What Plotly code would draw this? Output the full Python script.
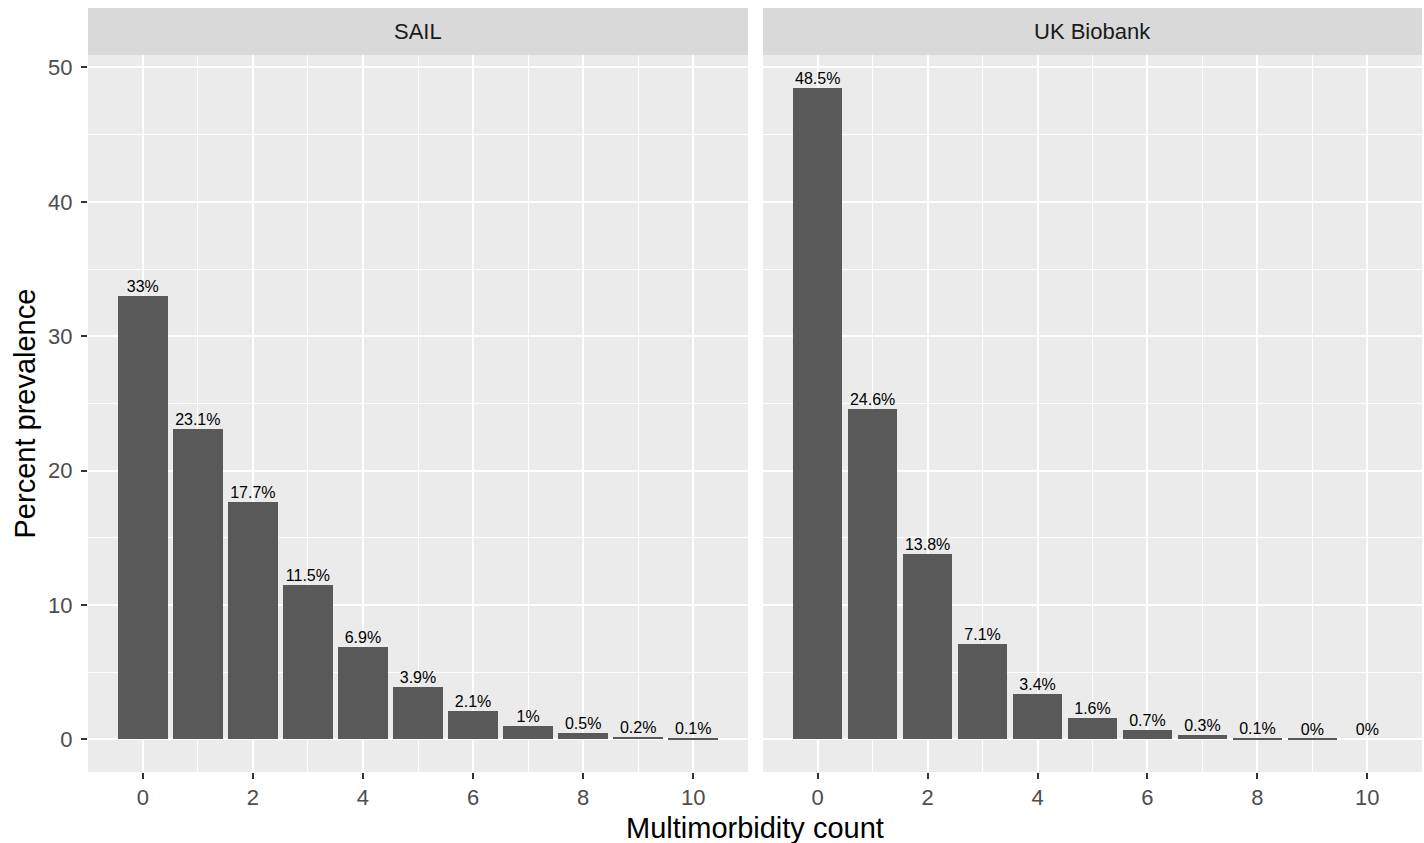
import plotly.graph_objects as go

counts = [0, 1, 2, 3, 4, 5, 6, 7, 8, 9, 10]
sail_values = [33.0, 23.1, 17.7, 11.5, 6.9, 3.9, 2.1, 1.0, 0.5, 0.2, 0.1]
sail_labels = ["33%", "23.1%", "17.7%", "11.5%", "6.9%", "3.9%", "2.1%", "1%", "0.5%", "0.2%", "0.1%"]
ukb_values = [48.5, 24.6, 13.8, 7.1, 3.4, 1.6, 0.7, 0.3, 0.1, 0.04, 0.0]
ukb_labels = ["48.5%", "24.6%", "13.8%", "7.1%", "3.4%", "1.6%", "0.7%", "0.3%", "0.1%", "0%", "0%"]
panels = ["SAIL", "UK Biobank"]
x_ticks = [0, 2, 4, 6, 8, 10]
y_ticks = [0, 10, 20, 30, 40, 50]

FONT = "Arial, Liberation Sans, sans-serif"
BAR = "#595959"

fig = go.Figure()
for i, (vals, labs) in enumerate([(sail_values, sail_labels), (ukb_values, ukb_labels)]):
    xa = "x" if i == 0 else "x2"
    ya = "y" if i == 0 else "y2"
    fig.add_trace(go.Bar(x=counts, y=vals, width=0.9, marker=dict(color=BAR, line=dict(width=0)),
                         xaxis=xa, yaxis=ya, showlegend=False, hoverinfo="skip"))
    fig.add_trace(go.Scatter(x=counts, y=vals, mode="text", text=labs, textposition="top center",
                             textfont=dict(family=FONT, size=16, color="black"),
                             xaxis=xa, yaxis=ya, showlegend=False, cliponaxis=False, hoverinfo="skip"))

L, R, T, B = 88, 2, 55, 71
W, H = 1424, 843
pw = W - L - R
ph = H - T - B
d1 = [0, (748 - L) / pw]
d2 = [(763 - L) / pw, 1]

xcommon = dict(range=[-0.995, 10.995], tickvals=x_ticks, ticks="outside", ticklen=6, tickwidth=2,
               tickcolor="#333333", tickfont=dict(family=FONT, size=22, color="#4D4D4D"),
               showgrid=True, gridcolor="white", gridwidth=2.2, zeroline=False, showline=False,
               minor=dict(dtick=1, tick0=1, showgrid=True, gridcolor="white", gridwidth=1.1, ticks=""),
               fixedrange=True)
ycommon = dict(range=[-2.425, 50.925], tickvals=y_ticks, showgrid=True, gridcolor="white", gridwidth=2.2,
               zeroline=False, showline=False,
               minor=dict(dtick=5, tick0=5, showgrid=True, gridcolor="white", gridwidth=1.1, ticks=""),
               fixedrange=True)

fig.update_layout(
    width=W, height=H,
    margin=dict(l=L, r=R, t=T, b=B),
    paper_bgcolor="white", plot_bgcolor="#EBEBEB",
    bargap=0,
    xaxis=dict(domain=d1, anchor="y", **xcommon),
    xaxis2=dict(domain=d2, anchor="y2", **xcommon),
    yaxis=dict(domain=[0, 1], anchor="x", ticks="outside", ticklen=6, tickwidth=2, tickcolor="#333333",
               ticklabelstandoff=4,
               tickfont=dict(family=FONT, size=22, color="#4D4D4D"), **ycommon),
    yaxis2=dict(domain=[0, 1], anchor="x2", showticklabels=False, ticks="", **ycommon),
    font=dict(family=FONT),
)

strip_h = 47 / ph
for d, name in zip([d1, d2], panels):
    fig.add_shape(type="rect", xref="paper", yref="paper", x0=d[0], x1=d[1], y0=1, y1=1 + strip_h,
                  fillcolor="#D9D9D9", line=dict(width=0), layer="below")
    fig.add_annotation(xref="paper", yref="paper", x=(d[0] + d[1]) / 2, y=1 + strip_h / 2, text=name,
                       showarrow=False, font=dict(family=FONT, size=22, color="#1A1A1A"),
                       xanchor="center", yanchor="middle")

fig.add_annotation(xref="paper", yref="paper", x=(755 - L) / pw, y=-(828 - (H - B)) / ph,
                   text="Multimorbidity count", showarrow=False,
                   font=dict(family=FONT, size=29, color="black"), xanchor="center", yanchor="middle")
fig.add_annotation(xref="paper", yref="paper", x=-(L - 24) / pw, y=0.5,
                   text="Percent prevalence", showarrow=False, textangle=-90,
                   font=dict(family=FONT, size=29, color="black"), xanchor="center", yanchor="middle")

fig.write_html("out.html")
